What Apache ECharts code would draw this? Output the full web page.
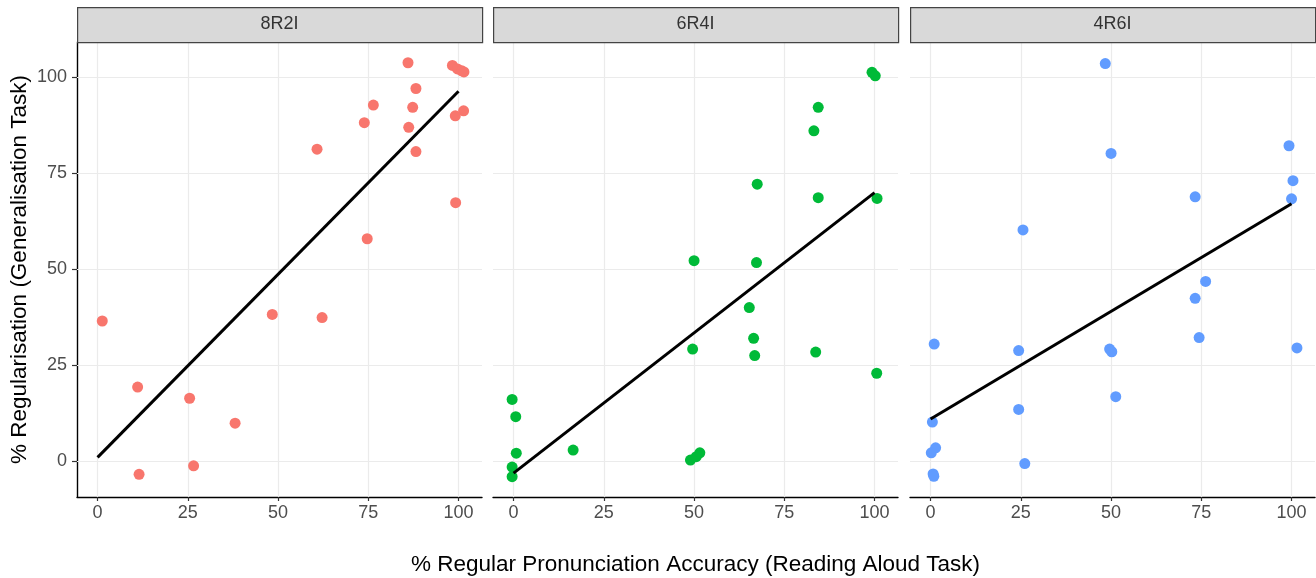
<!DOCTYPE html>
<html>
<head>
<meta charset="utf-8">
<script src="https://cdn.jsdelivr.net/npm/echarts@6/dist/echarts.min.js"></script>
<style>
html,body{margin:0;padding:0;background:#fff;}
#chart{width:1316px;height:578px;}
</style>
</head>
<body>
<div id="chart"></div>
<script>
// ---- data ----
const facetNames = ['8R2I', '6R4I', '4R6I'];
const xTicks = [0, 25, 50, 75, 100];
const yTicks = [0, 25, 50, 75, 100];
const pointColors = ['#F8766D', '#00BA38', '#619CFF'];

const p1X = [86.0, 98.3, 99.7, 100.9, 101.5, 88.2, 76.4, 87.3, 101.4, 99.1, 73.9, 86.2, 60.8, 88.2, 99.2, 74.7, 48.4, 62.2, 1.3, 11.1, 25.5, 38.1, 26.6, 11.5];
const p1Y = [103.7, 103.0, 102.1, 101.6, 101.3, 97.0, 92.7, 92.1, 91.2, 89.9, 88.1, 86.9, 81.2, 80.6, 67.3, 57.9, 38.2, 37.4, 36.5, 19.3, 16.4, 9.9, -1.2, -3.4];

const p2X = [99.3, 100.2, 84.4, 83.2, 67.5, 84.4, 100.7, 50.0, 67.3, 65.3, 66.5, 49.6, 66.8, 83.7, 100.6, -0.4, 0.6, 0.75, 16.5, -0.4, -0.4, 49.0, 50.6, 51.6];
const p2Y = [101.2, 100.3, 92.1, 86.0, 72.1, 68.6, 68.4, 52.2, 51.7, 40.0, 32.0, 29.2, 27.5, 28.4, 22.9, 16.1, 11.6, 2.1, 2.9, -1.5, -4.0, 0.3, 1.2, 2.2];

const p3X = [48.4, 99.3, 50.0, 100.4, 73.3, 100.0, 25.6, 76.2, 73.3, 74.4, 1.0, 24.4, 49.6, 50.2, 101.5, 51.3, 24.4, 0.5, 1.4, 0.2, 26.1, 0.7, 0.9];
const p3Y = [103.5, 82.1, 80.1, 73.0, 68.8, 68.3, 60.2, 46.8, 42.4, 32.2, 30.5, 28.8, 29.2, 28.5, 29.5, 16.8, 13.5, 10.2, 3.5, 2.2, -0.6, -3.3, -3.9];

// fitted line end points (x, y)
const fit1 = [[0, 1.0], [100, 96.3]];
const fit2 = [[0, -3.1], [100, 69.9]];
const fit3 = [[0, 11.0], [100, 67.0]];

const xTitle = '% Regular Pronunciation Accuracy (Reading Aloud Task)';
const yTitle = '% Regularisation (Generalisation Task)';

// ---- layout ----
const panelLefts = [77, 493, 910];
const panelWidth = 405;
const panelTop = 42;
const panelHeight = 455;
const stripTop = 7;
const stripHeight = 35;

const pointsX = [p1X, p2X, p3X];
const pointsY = [p1Y, p2Y, p3Y];
const fits = [fit1, fit2, fit3];

const FONT = 'Liberation Sans, Arial, sans-serif';

const grids = [], xAxes = [], yAxes = [], series = [], graphics = [];

for (let i = 0; i < 3; i++) {
  grids.push({left: panelLefts[i], top: panelTop, width: panelWidth, height: panelHeight,
              containLabel: false, outerBoundsMode: 'none'});
  xAxes.push({
    type: 'value', gridIndex: i, min: -5.7, max: 106.5,
    axisLine: {show: true, onZero: false, lineStyle: {color: '#000', width: 1.4}},
    axisTick: {show: true, length: 4, customValues: xTicks, lineStyle: {color: '#333', width: 1.2}},
    axisLabel: {show: true, customValues: xTicks, color: '#4d4d4d', fontSize: 18, fontFamily: FONT, margin: 7},
    splitLine: {show: false},
    name: i === 1 ? xTitle : '',
    nameLocation: 'middle', nameGap: 56,
    nameTextStyle: {color: '#000', fontSize: 22.5, fontFamily: FONT}
  });
  yAxes.push({
    type: 'value', gridIndex: i, min: -9.3, max: 109.1,
    axisLine: {show: i === 0, onZero: false, lineStyle: {color: '#000', width: 1.4}},
    axisTick: {show: i === 0, length: 5, customValues: yTicks, lineStyle: {color: '#333', width: 1.2}},
    axisLabel: {show: i === 0, customValues: yTicks, color: '#4d4d4d', fontSize: 18, fontFamily: FONT, margin: 10},
    splitLine: {show: false},
    name: i === 0 ? yTitle : '',
    nameLocation: 'middle', nameGap: 46,
    nameTextStyle: {color: '#000', fontSize: 22.5, fontFamily: FONT}
  });

  // gridlines via markLine on the library's scales
  const gl = [];
  xTicks.forEach(v => gl.push({xAxis: v}));
  yTicks.forEach(v => gl.push({yAxis: v}));
  series.push({
    type: 'scatter', xAxisIndex: i, yAxisIndex: i, data: [], z: 1, silent: true,
    markLine: {
      z: 1, silent: true, symbol: ['none', 'none'], animation: false,
      label: {show: false},
      lineStyle: {color: '#ebebeb', type: 'solid', width: 1.2},
      emphasis: {disabled: true},
      data: gl
    }
  });

  series.push({
    type: 'scatter', xAxisIndex: i, yAxisIndex: i, z: 3,
    symbolSize: 11,
    itemStyle: {color: pointColors[i], opacity: 1},
    data: pointsX[i].map((x, k) => [x, pointsY[i][k]]),
    animation: false
  });

  series.push({
    type: 'line', xAxisIndex: i, yAxisIndex: i, z: 4,
    data: fits[i], showSymbol: false, symbol: 'none',
    lineStyle: {color: '#000', width: 3},
    animation: false
  });

  graphics.push({
    type: 'rect', left: panelLefts[i], top: stripTop,
    shape: {width: panelWidth, height: stripHeight},
    style: {fill: '#d9d9d9', stroke: '#444', lineWidth: 1.2},
    z: 10
  });
  graphics.push({
    type: 'text', x: panelLefts[i] + panelWidth / 2, y: stripTop + stripHeight / 2,
    style: {text: facetNames[i], fill: '#333', font: '18px ' + FONT, align: 'center', verticalAlign: 'middle'},
    z: 11
  });
}

const chart = echarts.init(document.getElementById('chart'), null, {renderer: 'canvas'});
chart.setOption({
  backgroundColor: '#fff',
  animation: false,
  grid: grids,
  xAxis: xAxes,
  yAxis: yAxes,
  series: series,
  graphic: graphics
});
</script>
</body>
</html>
